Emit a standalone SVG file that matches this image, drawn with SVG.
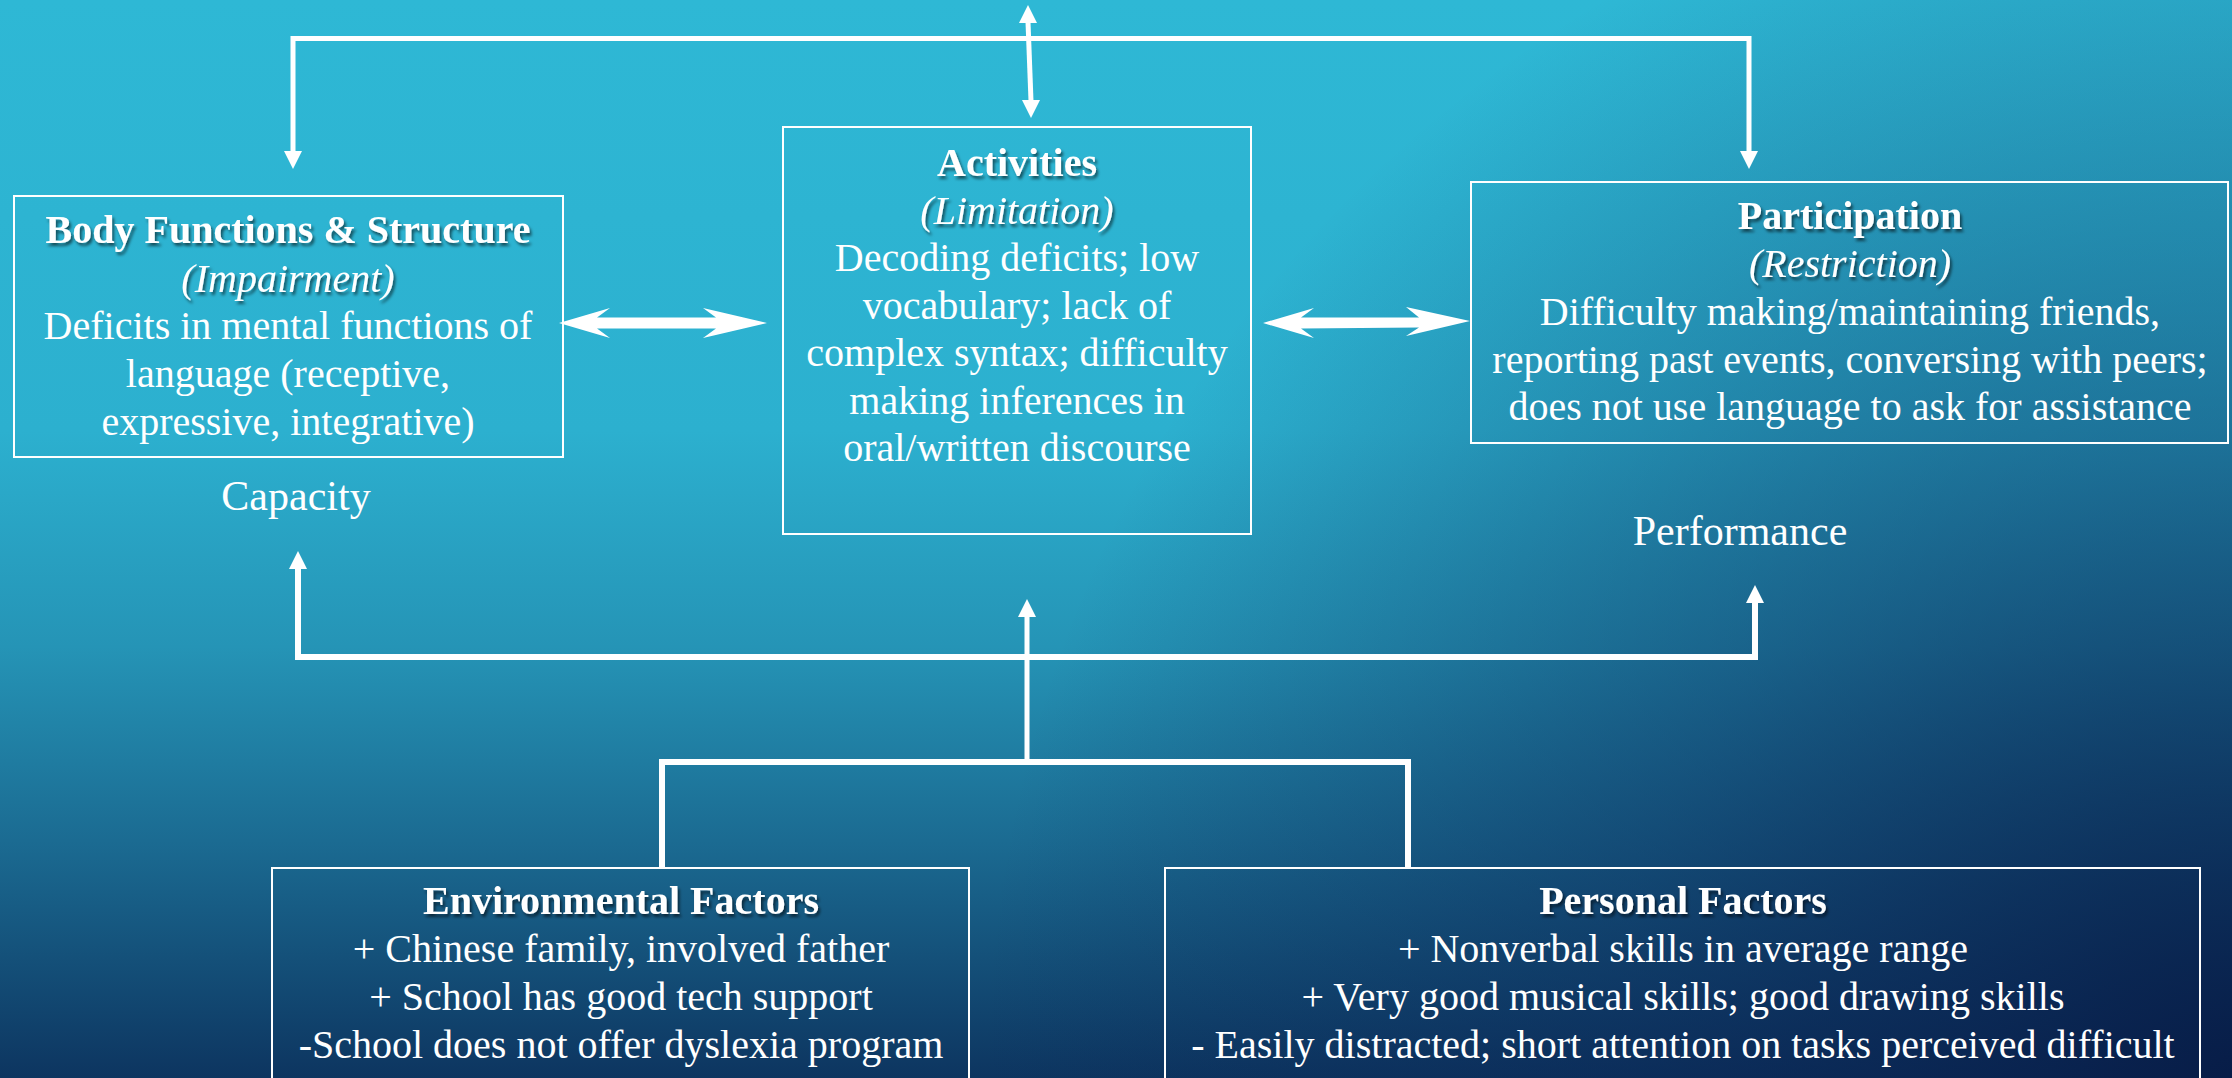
<svg xmlns="http://www.w3.org/2000/svg" xmlns:xlink="http://www.w3.org/1999/xlink" width="2232" height="1078" viewBox="0 0 2232 1078">
<defs>
<linearGradient id="bg" x1="0" y1="0" x2="0" y2="1078" gradientUnits="userSpaceOnUse">
<stop offset="0" stop-color="#2eb8d5"/>
<stop offset="0.4" stop-color="#2cb0cf"/>
<stop offset="0.6" stop-color="#2594b6"/>
<stop offset="0.78" stop-color="#1b6b92"/>
<stop offset="1" stop-color="#0d3560"/>
</linearGradient>
<radialGradient id="shade" cx="2232" cy="1078" r="1250" gradientUnits="userSpaceOnUse">
<stop offset="0" stop-color="#071a45" stop-opacity="0.9"/>
<stop offset="0.5" stop-color="#0a2454" stop-opacity="0.45"/>
<stop offset="1" stop-color="#0a2454" stop-opacity="0"/>
</radialGradient>
<filter id="sh" x="-10%" y="-30%" width="120%" height="160%">
<feDropShadow dx="2" dy="3" stdDeviation="1.5" flood-color="#000" flood-opacity="0.55"/>
</filter>
<path id="ah" d="M0,0 L-9,18 L9,18 Z" fill="#fff"/>
<style>
.box{fill:none;stroke:#fff;stroke-width:2}
.t{font-family:"Liberation Serif","Times New Roman",serif;font-size:40px;fill:#fff;text-anchor:middle}
.b{font-weight:bold}
.i{font-style:italic}
.lbl{font-family:"Liberation Serif","Times New Roman",serif;font-size:42px;fill:#fff;text-anchor:middle}
.ln{fill:none;stroke:#fff}
</style>
</defs>
<rect x="0" y="0" width="2232" height="1078" fill="url(#bg)"/>
<rect x="0" y="0" width="2232" height="1078" fill="url(#shade)"/>

<g id="connectors">
<path class="ln" stroke-width="5" d="M293,152 L293,38.5 L1749,38.5 L1749,152"/>
<use xlink:href="#ah" transform="translate(293,169) rotate(180)"/>
<use xlink:href="#ah" transform="translate(1749,169) rotate(180)"/>
<path class="ln" stroke-width="5" d="M1028,22 L1031,101"/>
<use xlink:href="#ah" transform="translate(1028,5)"/>
<use xlink:href="#ah" transform="translate(1031,118) rotate(180)"/>
<path fill="#fff" d="M559,323 L610,308 L597,317.5 L716,317.5 L703,308 L767,323 L703,338 L716,328.5 L597,328.5 L610,338 Z"/>
<path fill="#fff" d="M1263,323 L1314,308 L1301,317.5 L1419,317.5 L1406,307 L1470,321 L1406,336 L1419,327.5 L1301,328.5 L1314,338 Z"/>
<path class="ln" stroke-width="6" d="M298,568 L298,657 L1755,657 L1755,602"/>
<use xlink:href="#ah" transform="translate(298,551)"/>
<use xlink:href="#ah" transform="translate(1755,585)"/>
<path class="ln" stroke-width="5" d="M1027,616 L1027,762"/>
<use xlink:href="#ah" transform="translate(1027,599)"/>
<path class="ln" stroke-width="6" d="M662,869 L662,762 L1408,762 L1408,869"/>
</g>

<g id="body">
<rect class="box" x="14" y="196" width="549" height="261"/>
<text class="t b" x="288" y="243" filter="url(#sh)">Body Functions &amp; Structure</text>
<text class="t i" x="288" y="292" filter="url(#sh)">(Impairment)</text>
<text class="t" x="288" y="339">Deficits in mental functions of</text>
<text class="t" x="288" y="387">language (receptive,</text>
<text class="t" x="288" y="435">expressive, integrative)</text>
</g>
<g id="capacity">
<text class="lbl" x="296" y="510">Capacity</text>
</g>

<g id="activities">
<rect class="box" x="783" y="127" width="468" height="407"/>
<text class="t b" x="1017" y="176" filter="url(#sh)">Activities</text>
<text class="t i" x="1017" y="224" filter="url(#sh)">(Limitation)</text>
<text class="t" x="1017" y="271">Decoding deficits; low</text>
<text class="t" x="1017" y="319">vocabulary; lack of</text>
<text class="t" x="1017" y="366">complex syntax; difficulty</text>
<text class="t" x="1017" y="414">making inferences in</text>
<text class="t" x="1017" y="461">oral/written discourse</text>
</g>

<g id="participation">
<rect class="box" x="1471" y="182" width="757" height="261"/>
<text class="t b" x="1850" y="229" filter="url(#sh)">Participation</text>
<text class="t i" x="1850" y="277" filter="url(#sh)">(Restriction)</text>
<text class="t" x="1850" y="325">Difficulty making/maintaining friends,</text>
<text class="t" x="1850" y="373">reporting past events, conversing with peers;</text>
<text class="t" x="1850" y="420">does not use language to ask for assistance</text>
</g>
<g id="performance">
<text class="lbl" x="1740" y="545">Performance</text>
</g>

<g id="environmental">
<rect class="box" x="272" y="868" width="697" height="240"/>
<text class="t b" x="621" y="914" filter="url(#sh)">Environmental Factors</text>
<text class="t" x="621" y="962">+ Chinese family, involved father</text>
<text class="t" x="621" y="1010">+ School has good tech support</text>
<text class="t" x="621" y="1058">-School does not offer dyslexia program</text>
</g>

<g id="personal">
<rect class="box" x="1165" y="868" width="1035" height="240"/>
<text class="t b" x="1683" y="914" filter="url(#sh)">Personal Factors</text>
<text class="t" x="1683" y="962">+ Nonverbal skills in average range</text>
<text class="t" x="1683" y="1010">+ Very good musical skills; good drawing skills</text>
<text class="t" x="1683" y="1058">- Easily distracted; short attention on tasks perceived difficult</text>
</g>
</svg>
